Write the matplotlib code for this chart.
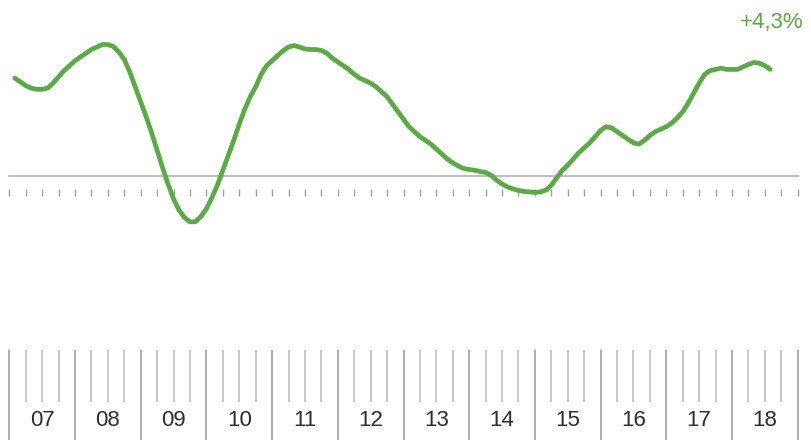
import numpy as np
import matplotlib
matplotlib.use("Agg")
import matplotlib.pyplot as plt

# monthly values, Feb 2007 .. Aug 2018 (per cent)
v2007 = [3.95, 3.8, 3.65, 3.55, 3.5, 3.5, 3.55, 3.75, 4.0, 4.25, 4.45]
v2008 = [4.65, 4.8, 4.95, 5.1, 5.2, 5.3, 5.3, 5.22, 5.0, 4.7, 4.2, 3.6]
v2009 = [3.0, 2.4, 1.75, 1.05, 0.35, -0.3, -0.9, -1.35, -1.65, -1.82, -1.82, -1.6]
v2010 = [-1.3, -0.85, -0.35, 0.25, 0.85, 1.45, 2.1, 2.7, 3.2, 3.6, 4.1, 4.45]
v2011 = [4.65, 4.85, 5.05, 5.2, 5.26, 5.2, 5.12, 5.1, 5.1, 5.06, 4.95, 4.75]
v2012 = [4.6, 4.45, 4.3, 4.1, 3.95, 3.85, 3.75, 3.6, 3.4, 3.2, 2.9, 2.6]
v2013 = [2.3, 2.0, 1.8, 1.6, 1.45, 1.3, 1.1, 0.9, 0.7, 0.55, 0.42, 0.32]
v2014 = [0.28, 0.25, 0.2, 0.16, 0.05, -0.15, -0.3, -0.42, -0.5, -0.56, -0.6, -0.62]
v2015 = [-0.64, -0.62, -0.55, -0.35, -0.05, 0.25, 0.45, 0.7, 0.95, 1.15, 1.35, 1.6]
v2016 = [1.85, 2.0, 1.95, 1.8, 1.65, 1.5, 1.35, 1.3, 1.45, 1.65, 1.8, 1.9]
v2017 = [2.0, 2.15, 2.35, 2.6, 2.95, 3.35, 3.75, 4.1, 4.25, 4.3, 4.35, 4.3]
v2018 = [4.3, 4.3, 4.4, 4.5, 4.58, 4.55, 4.45, 4.3]

years = list(range(2007, 2019))
year_labels = ["07", "08", "09", "10", "11", "12", "13", "14", "15", "16", "17", "18"]

GREEN = "#5aab45"
GRID = "#b8b8b8"

values = np.array(v2007 + v2008 + v2009 + v2010 + v2011 + v2012 +
                  v2013 + v2014 + v2015 + v2016 + v2017 + v2018)
months = 2007 + (1 + np.arange(len(values))) / 12.0

# pixel layout of the original: year width and zero line
x0, year_px = 9.3, 65.7
zero_px, unit_px = 176.5, 24.9
W, H = 812, 440
xlim = (2007 - x0 / year_px, 2007 + (W - x0) / year_px)

fig = plt.figure(figsize=(W / 100, H / 100), dpi=100)

ax = fig.add_axes([0, 0, 1, 1])
ax.set_xlim(*xlim)
ax.set_ylim(-(H - zero_px) / unit_px, zero_px / unit_px)
ax.axis("off")

ax.plot([years[0], years[-1] + 1], [0, 0], color=GRID, lw=1.3, zorder=1)
quarters = np.arange(years[0], years[-1] + 1.01, 0.25)
ax.vlines(quarters, -0.80, -0.52, color="#a0a0a0", lw=1.0, zorder=1)
ax.plot(months, values, color=GREEN, lw=3.4, solid_capstyle="round",
        solid_joinstyle="round", zorder=3)

last = values[-1]
ax.text(months[-1] + 0.02, 6.2, "+" + f"{last:.1f}".replace(".", ",") + "%",
        color=GREEN, fontsize=16, ha="center", va="center",
        family=["Liberation Sans", "DejaVu Sans"])

# ruler with years at the bottom
rx = fig.add_axes([0, 0, 1, 90 / H])
rx.set_xlim(*xlim)
rx.set_ylim(0, 1)
rx.axis("off")
rx.vlines(years + [years[-1] + 1], 0, 1, color="#a8a8a8", lw=1.3)
for y, lab in zip(years, year_labels):
    rx.vlines([y + 0.25, y + 0.5, y + 0.75], 0.42, 1, color="#c4c4c4", lw=1.3)
    rx.text(y + 0.5, 0.22, lab, ha="center", va="center", fontsize=16,
            color="#2e2e2e",
            family=["DejaVu Sans Condensed", "Liberation Sans", "DejaVu Sans"])

fig.savefig("out.png", dpi=100)
